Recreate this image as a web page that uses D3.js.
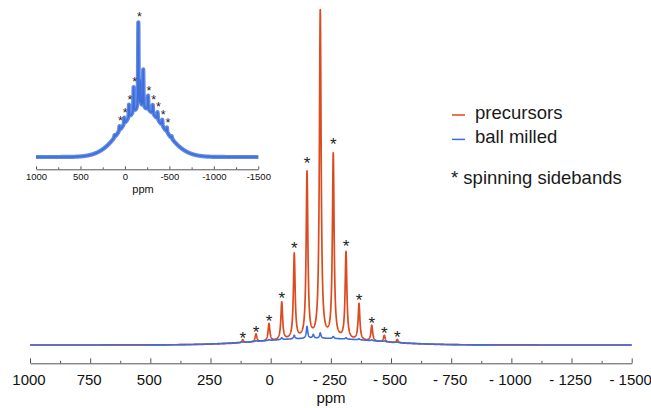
<!DOCTYPE html>
<html>
<head>
<meta charset="utf-8">
<script src="https://cdn.jsdelivr.net/npm/d3@7"></script>
<style>
  html, body { margin: 0; padding: 0; background: #ffffff; }
  svg { display: block; font-family: "Liberation Sans", Arial, Helvetica, sans-serif; }
</style>
</head>
<body>
<svg id="chart" width="651" height="408"></svg>
<script>
// Chemical-shift positions (ppm) of the isotropic line and its spinning sidebands
const bandPpm        = [116, 61, 7, -46, -98, -151, -206, -260, -313, -367, -420, -472, -526];
// Peak intensities (relative, tallest precursor line ~ 100)
const precursorAmp   = [0.9, 2.4, 5.2, 11.3, 25.5, 49.6, 97.9, 55.0, 26.0, 10.9, 4.7, 2.0, 1.0];
const ballMilledAmp  = [0.1, 0.2, 0.27, 0.55, 1.06, 3.6, 1.6, 0.6, 0.37, 0.3, 0.25, 0.2, 0.1];
// Which lines are marked with an asterisk (main plot / inset)
const markMain       = [1, 1, 1, 1, 1, 1, 0, 1, 1, 1, 1, 1, 1];
const markInset      = [0, 1, 1, 1, 1, 1, 0, 1, 1, 1, 1, 1, 0];
// Extra line resolved only in the ball-milled sample
const ballMilledExtraPpm = [-177];
const ballMilledExtraAmp = [1.1];
// Broad underlying component (centre, gaussian width in ppm, heights)
const broadCenter    = [-200];
const broadSigma     = [235];
const precursorBroad = [1.5];
const ballMilledBroad = [2.0];
// Lorentzian half-widths (ppm)
const precursorHW    = [4.3];
const ballMilledHW   = [3.5];

// Axis ticks
const mainTicks       = [1000, 750, 500, 250, 0, -250, -500, -750, -1000, -1250, -1500];
const mainTickLabels  = ["1000", "750", "500", "250", "0", "- 250", "- 500", "- 750", "- 1000", "- 1250", "- 1500"];
const mainMinorTicks  = [875, 625, 375, 125, -125, -375, -625, -875, -1125, -1375];
const insetTicks      = [1000, 500, 0, -500, -1000, -1500];
const insetTickLabels = ["1000", "500", "0", "-500", "-1000", "-1500"];
const insetMinorTicks = [750, 250, -250, -750, -1250];

const legendNames = ["precursors", "ball milled"];
const colors = { precursors: "#dc4a1f", ballMilled: "#3b6ddc" };

// ---- spectra built from the line lists ----
function spectrum(amps, hw, broad, extraPpm, extraAmp) {
  const pts = [];
  for (let i = 0; i <= 5000; i++) {
    const p = 1000 - i * 0.5;
    let v = broad * Math.exp(-((p - broadCenter[0]) ** 2) / (2 * broadSigma[0] ** 2));
    bandPpm.forEach((c, k) => { v += amps[k] * hw * hw / (hw * hw + (p - c) ** 2); });
    extraPpm.forEach((c, k) => { v += extraAmp[k] * hw * hw / (hw * hw + (p - c) ** 2); });
    pts.push([p, v]);
  }
  return pts;
}
const precursor = spectrum(precursorAmp, precursorHW[0], precursorBroad[0], [], []);
const ballMilled = spectrum(ballMilledAmp, ballMilledHW[0], ballMilledBroad[0], ballMilledExtraPpm, ballMilledExtraAmp);
const valueAt = (series, p) => series[Math.round((1000 - p) * 2)][1];

const svg = d3.select("#chart");
svg.append("rect").attr("width", 651).attr("height", 408).attr("fill", "#fff");

// ---- main plot ----
const x = d3.scaleLinear().domain([1000, -1500]).range([30, 631.7]);
const y = d3.scaleLinear().domain([0, 100]).range([345, 10]);
const line = d3.line().x(d => x(d[0])).y(d => y(d[1]));

svg.append("path").datum(precursor).attr("d", line)
  .attr("fill", "none").attr("stroke", colors.precursors).attr("stroke-width", 1.7)
  .attr("stroke-linejoin", "round");
svg.append("path").datum(ballMilled).attr("d", line)
  .attr("fill", "none").attr("stroke", colors.ballMilled).attr("stroke-width", 1.6)
  .attr("stroke-linejoin", "round");

// sideband asterisks
const starFs = 17;
svg.append("g").selectAll("text")
  .data(bandPpm.map((p, i) => ({ p, m: markMain[i] })).filter(d => d.m))
  .join("text")
  .attr("x", d => x(d.p))
  .attr("y", d => {
    const top = y(valueAt(precursor, d.p));
    const c = top - (5.5 + 0.035 * (y(0) - top));
    return c + 0.57 * starFs;
  })
  .attr("text-anchor", "middle").attr("font-size", starFs).attr("fill", "#222")
  .text("*");

// x axis (ticks pointing up)
const axisY = 363.3;
const mainAxis = svg.append("g").attr("transform", `translate(0,${axisY})`)
  .call(d3.axisBottom(x).tickValues(mainTicks).tickSizeInner(-5).tickSizeOuter(0).tickPadding(11)
    .tickFormat((d, i) => mainTickLabels[i]));
mainAxis.select(".domain").attr("stroke", "#555").attr("stroke-width", 1);
mainAxis.selectAll(".tick line").attr("stroke", "#555");
mainAxis.selectAll(".tick text").attr("font-size", 15).attr("fill", "#111")
  .attr("font-family", "'Liberation Sans', Arial, sans-serif").attr("dx", -1.5);
const mainMinor = svg.append("g").attr("transform", `translate(0,${axisY})`)
  .call(d3.axisBottom(x).tickValues(mainMinorTicks).tickSizeInner(-2.5).tickSizeOuter(0).tickFormat(""));
mainMinor.select(".domain").remove();
mainMinor.selectAll(".tick line").attr("stroke", "#555");

svg.append("text").attr("x", 331).attr("y", 403).attr("text-anchor", "middle")
  .attr("font-size", 15).attr("fill", "#111").text("ppm");

// ---- legend ----
const legend = svg.append("g");
[colors.precursors, colors.ballMilled].forEach((c, i) => {
  legend.append("line").attr("x1", 452).attr("x2", 465)
    .attr("y1", 115 + i * 24.4).attr("y2", 115 + i * 24.4)
    .attr("stroke", c).attr("stroke-width", 1.5);
  legend.append("text").attr("x", 475).attr("y", 119 + i * 24.2)
    .attr("font-size", 18.5).attr("fill", "#1a1a1a").text(legendNames[i]);
});
legend.append("text").attr("x", 451).attr("y", 183.5)
  .attr("font-size", 18.5).attr("fill", "#1a1a1a").text("* spinning sidebands");

// ---- inset: ball-milled spectrum enlarged ----
const xi = d3.scaleLinear().domain([1000, -1500]).range([36, 258.3]);
const yi = d3.scaleLinear().domain([0, d3.max(ballMilled, d => d[1])]).range([157, 22.3]);
const insetLine = d3.line().x(d => xi(d[0])).y(d => yi(d[1]));

// trace drawn with a wide, slightly translucent stroke for its noise envelope
svg.append("path").datum(ballMilled).attr("d", insetLine)
  .attr("fill", "none").attr("stroke", colors.ballMilled).attr("stroke-width", 4.2)
  .attr("stroke-opacity", 0.8).attr("stroke-linejoin", "round");
svg.append("path").datum(ballMilled).attr("d", insetLine)
  .attr("fill", "none").attr("stroke", colors.ballMilled).attr("stroke-width", 1.5)
  .attr("stroke-linejoin", "round");

const starFsI = 12.5;
svg.append("g").selectAll("text")
  .data(bandPpm.map((p, i) => ({ p, m: markInset[i] })).filter(d => d.m))
  .join("text")
  .attr("x", d => xi(d.p) + 1)
  .attr("y", d => yi(valueAt(ballMilled, d.p)) - 8 + 0.57 * starFsI)
  .attr("text-anchor", "middle").attr("font-size", starFsI).attr("fill", "#222")
  .text("*");

const insetAxisY = 169.3;
const insetAxis = svg.append("g").attr("transform", `translate(0,${insetAxisY})`)
  .call(d3.axisBottom(xi).tickValues(insetTicks).tickSizeInner(-3).tickSizeOuter(0).tickPadding(4)
    .tickFormat((d, i) => insetTickLabels[i]));
insetAxis.select(".domain").attr("stroke", "#555").attr("stroke-width", 1);
insetAxis.selectAll(".tick line").attr("stroke", "#555");
insetAxis.selectAll(".tick text").attr("font-size", 9.5).attr("fill", "#111")
  .attr("font-family", "'Liberation Sans', Arial, sans-serif");
const insetMinor = svg.append("g").attr("transform", `translate(0,${insetAxisY})`)
  .call(d3.axisBottom(xi).tickValues(insetMinorTicks).tickSizeInner(-2).tickSizeOuter(0).tickFormat(""));
insetMinor.select(".domain").remove();
insetMinor.selectAll(".tick line").attr("stroke", "#555");

svg.append("text").attr("x", 143).attr("y", 193.3).attr("text-anchor", "middle")
  .attr("font-size", 11).attr("fill", "#111").text("ppm");
</script>
</body>
</html>
